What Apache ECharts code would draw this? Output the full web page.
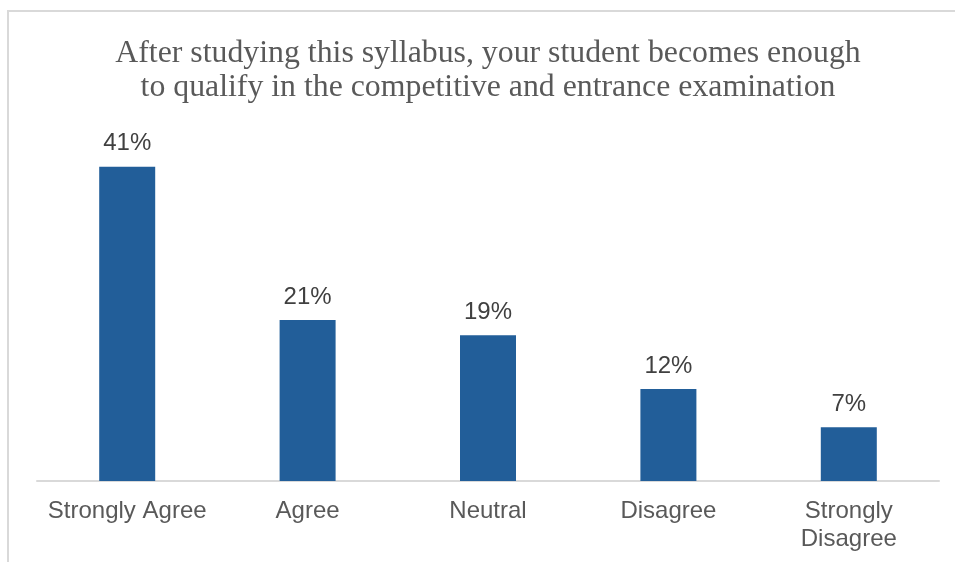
<!DOCTYPE html>
<html>
<head>
<meta charset="utf-8">
<script src="https://cdn.jsdelivr.net/npm/echarts@6/dist/echarts.min.js"></script>
<style>html,body{margin:0;padding:0;background:#fff;}#chart{width:955px;height:562px;}</style>
</head>
<body>
<div id="chart"></div>
<script>
var titleText = 'After studying this syllabus, your student becomes enough\nto qualify in the competitive and entrance examination';
var categories = ['Strongly Agree', 'Agree', 'Neutral', 'Disagree', 'Strongly\nDisagree'];
var values = [41, 21, 19, 12, 7];

var chart = echarts.init(document.getElementById('chart'));
chart.setOption({
  animation: false,
  backgroundColor: '#ffffff',
  graphic: [{
    type: 'rect',
    shape: { x: 8, y: 11, width: 1000, height: 600 },
    style: { fill: 'none', stroke: '#d9d9d9', lineWidth: 2 },
    silent: true
  }],
  title: {
    text: titleText,
    left: 488,
    textAlign: 'center',
    top: 36,
    padding: 0,
    textStyle: {
      fontFamily: 'Liberation Serif',
      fontSize: 31.8,
      fontWeight: 'normal',
      color: '#595959',
      lineHeight: 34.5
    }
  },
  grid: { left: 37, right: 16, top: 136, bottom: 81, containLabel: false },
  xAxis: {
    type: 'category',
    data: categories,
    axisLine: { lineStyle: { color: '#d9d9d9', width: 2 } },
    axisTick: { show: false },
    axisLabel: {
      interval: 0,
      margin: 16,
      fontFamily: 'Liberation Sans',
      fontSize: 24,
      color: '#595959',
      lineHeight: 28
    }
  },
  yAxis: {
    type: 'value',
    min: 0,
    max: 45,
    show: false,
    splitLine: { show: false }
  },
  series: [{
    type: 'bar',
    data: values,
    barWidth: 56,
    itemStyle: { color: '#225e99' },
    label: {
      show: true,
      position: 'top',
      distance: 11,
      formatter: '{c}%',
      fontFamily: 'Liberation Sans',
      fontSize: 24,
      color: '#404040'
    }
  }]
});
</script>
</body>
</html>
